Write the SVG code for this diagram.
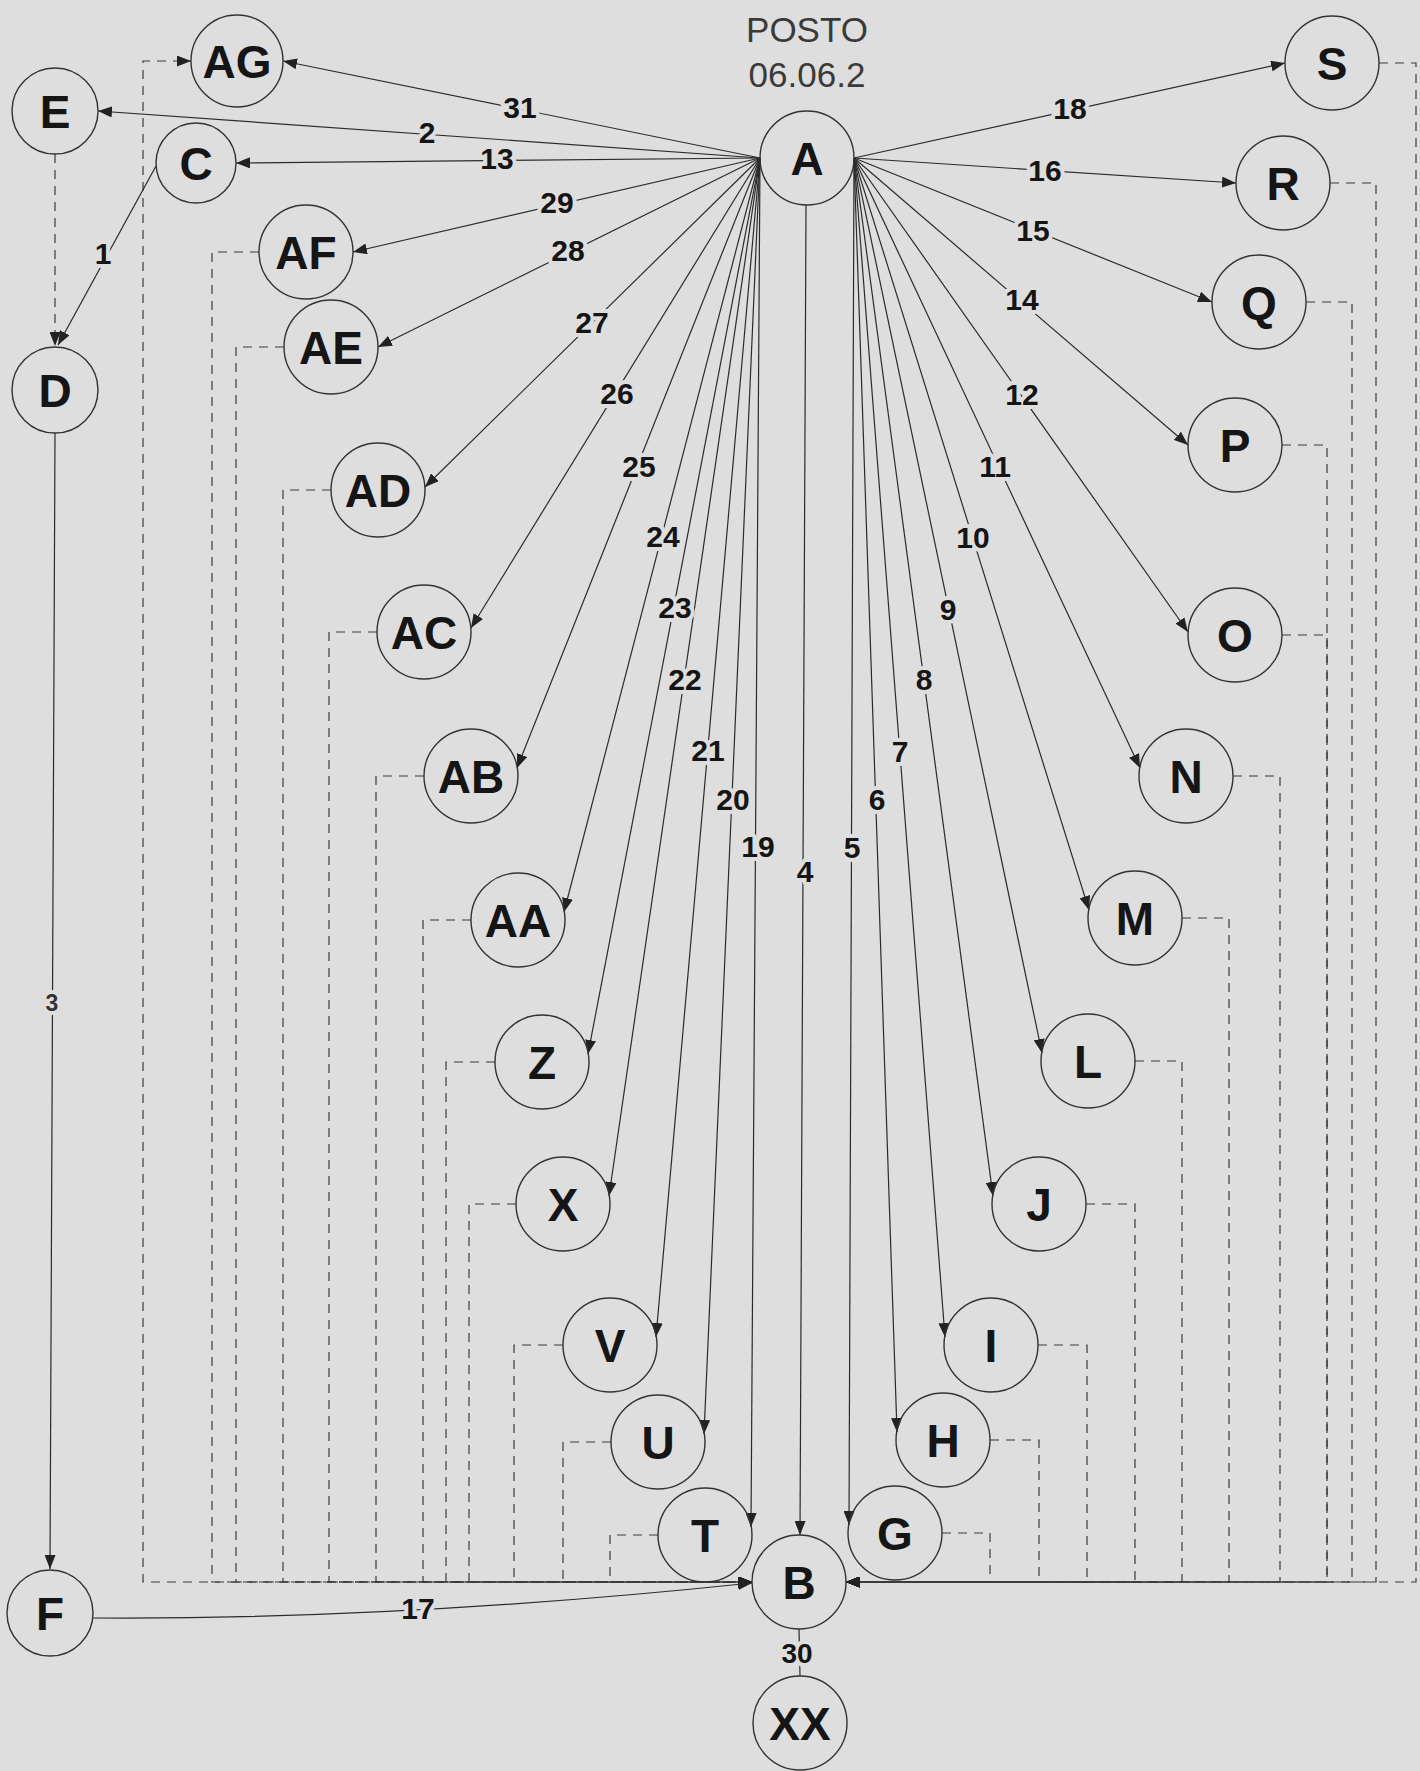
<svg xmlns="http://www.w3.org/2000/svg" width="1420" height="1771" viewBox="0 0 1420 1771">
<style>
.n circle{fill:none;stroke:#333;stroke-width:1.4}
.n text{font-family:"Liberation Sans",Arial,sans-serif;font-weight:bold;font-size:46px;text-anchor:middle;fill:#151515}
.e{stroke:#2b2b2b;stroke-width:1.2;fill:none}
.d{stroke:#3a3a3a;stroke-width:1.2;fill:none;stroke-dasharray:9 7}
.lbl{font-family:"Liberation Sans",Arial,sans-serif;font-weight:bold;font-size:30px;text-anchor:middle;fill:#151515;paint-order:stroke;stroke:#dedede;stroke-width:8;stroke-linejoin:round}
.ttl{font-family:"Liberation Sans",Arial,sans-serif;font-size:35px;text-anchor:middle;fill:#3a3a3a}
</style>
<defs>
<marker id="ah" viewBox="0 0 14 11" refX="14" refY="5.5" markerWidth="14" markerHeight="11" orient="auto" markerUnits="userSpaceOnUse"><path d="M0,0 L14,5.5 L0,11 z" fill="#222"/></marker>
</defs>
<rect x="0" y="0" width="1420" height="1771" fill="#dedede"/>
<text class="ttl" x="807" y="42">POSTO</text>
<text class="ttl" x="807" y="87">06.06.2</text>

<g id="connectors">
<!-- dashed left -->
<path class="d" d="M752 1582 H143 V61 H191" marker-end="url(#ah)"/>
<path class="d" d="M259 252 H212 V1582 H752" marker-end="url(#ah)"/>
<path class="d" d="M284 347 H236 V1582 H752" marker-end="url(#ah)"/>
<path class="d" d="M331 490 H283 V1582 H752" marker-end="url(#ah)"/>
<path class="d" d="M377 632 H329 V1582 H752" marker-end="url(#ah)"/>
<path class="d" d="M424 776 H376 V1582 H752" marker-end="url(#ah)"/>
<path class="d" d="M471 920 H423 V1582 H752" marker-end="url(#ah)"/>
<path class="d" d="M495 1062 H446 V1582 H752" marker-end="url(#ah)"/>
<path class="d" d="M516 1204 H469 V1582 H752" marker-end="url(#ah)"/>
<path class="d" d="M563 1345 H514 V1582 H752" marker-end="url(#ah)"/>
<path class="d" d="M611 1442 H563 V1582 H752" marker-end="url(#ah)"/>
<path class="d" d="M658 1535 H610 V1582 H752" marker-end="url(#ah)"/>
<!-- dashed right -->
<path class="d" d="M942 1533 H990 V1582 H846" marker-end="url(#ah)"/>
<path class="d" d="M990 1440 H1039 V1582 H846" marker-end="url(#ah)"/>
<path class="d" d="M1038 1345 H1087 V1582 H846" marker-end="url(#ah)"/>
<path class="d" d="M1086 1204 H1135 V1582 H846" marker-end="url(#ah)"/>
<path class="d" d="M1135 1061 H1182 V1582 H846" marker-end="url(#ah)"/>
<path class="d" d="M1182 918 H1229 V1582 H846" marker-end="url(#ah)"/>
<path class="d" d="M1233 776 H1280 V1582 H846" marker-end="url(#ah)"/>
<path class="d" d="M1282 635 H1327 V1582 H846" marker-end="url(#ah)"/>
<path class="d" d="M1282 445 H1327 V1582 H846" marker-end="url(#ah)"/>
<path class="d" d="M1306 302 H1352 V1582 H846" marker-end="url(#ah)"/>
<path class="d" d="M1330 183 H1376 V1582 H846" marker-end="url(#ah)"/>
<path class="d" d="M1379 63 H1416 V1582 H846" marker-end="url(#ah)"/>
<!-- E to D dashed -->
<path class="d" d="M55 154 V346" marker-end="url(#ah)"/>

<!-- rays from A, left port -->
<path class="e" d="M760 158 L283 61" marker-end="url(#ah)"/>
<path class="e" d="M760 158 L98 111" marker-end="url(#ah)"/>
<path class="e" d="M760 158 L236 163" marker-end="url(#ah)"/>
<path class="e" d="M760 158 L353 252" marker-end="url(#ah)"/>
<path class="e" d="M760 158 L378 347" marker-end="url(#ah)"/>
<path class="e" d="M760 158 L425 487" marker-end="url(#ah)"/>
<path class="e" d="M760 158 L471 628" marker-end="url(#ah)"/>
<path class="e" d="M760 158 L517 768" marker-end="url(#ah)"/>
<path class="e" d="M760 158 L564 912" marker-end="url(#ah)"/>
<path class="e" d="M760 158 L588 1054" marker-end="url(#ah)"/>
<path class="e" d="M760 158 L609 1196" marker-end="url(#ah)"/>
<path class="e" d="M760 158 L656 1337" marker-end="url(#ah)"/>
<path class="e" d="M760 158 L704 1434" marker-end="url(#ah)"/>
<path class="e" d="M760 158 L751 1527" marker-end="url(#ah)"/>
<path class="e" d="M806 205 L800 1535" marker-end="url(#ah)"/>
<!-- rays from A, right port -->
<path class="e" d="M854 158 L1285 63" marker-end="url(#ah)"/>
<path class="e" d="M854 158 L1236 183" marker-end="url(#ah)"/>
<path class="e" d="M854 158 L1212 302" marker-end="url(#ah)"/>
<path class="e" d="M854 158 L1188 445" marker-end="url(#ah)"/>
<path class="e" d="M854 158 L1188 632" marker-end="url(#ah)"/>
<path class="e" d="M854 158 L1140 768" marker-end="url(#ah)"/>
<path class="e" d="M854 158 L1089 910" marker-end="url(#ah)"/>
<path class="e" d="M854 158 L1042 1053" marker-end="url(#ah)"/>
<path class="e" d="M854 158 L993 1196" marker-end="url(#ah)"/>
<path class="e" d="M854 158 L945 1337" marker-end="url(#ah)"/>
<path class="e" d="M854 158 L897 1432" marker-end="url(#ah)"/>
<path class="e" d="M854 158 L849 1525" marker-end="url(#ah)"/>
<!-- other -->
<path class="e" d="M156 166 L58 345" marker-end="url(#ah)"/>
<path class="e" d="M55 433 L50 1569" marker-end="url(#ah)"/>
<path class="e" d="M93 1618 Q400 1620 752 1583" marker-end="url(#ah)"/>
<path class="e" d="M799 1629 L800 1676"/>

<!-- labels -->
<text class="lbl" x="520" y="118">31</text>
<text class="lbl" x="427" y="143">2</text>
<text class="lbl" x="497" y="169">13</text>
<text class="lbl" x="557" y="213">29</text>
<text class="lbl" x="568" y="261">28</text>
<text class="lbl" x="592" y="333">27</text>
<text class="lbl" x="617" y="404">26</text>
<text class="lbl" x="639" y="477">25</text>
<text class="lbl" x="663" y="547">24</text>
<text class="lbl" x="675" y="618">23</text>
<text class="lbl" x="685" y="690">22</text>
<text class="lbl" x="708" y="761">21</text>
<text class="lbl" x="733" y="810">20</text>
<text class="lbl" x="758" y="857">19</text>
<text class="lbl" x="805" y="882">4</text>
<text class="lbl" x="852" y="858">5</text>
<text class="lbl" x="877" y="810">6</text>
<text class="lbl" x="900" y="762">7</text>
<text class="lbl" x="924" y="690">8</text>
<text class="lbl" x="948" y="620">9</text>
<text class="lbl" x="973" y="548">10</text>
<text class="lbl" x="995" y="477">11</text>
<text class="lbl" x="1022" y="405">12</text>
<text class="lbl" x="1022" y="310">14</text>
<text class="lbl" x="1033" y="241">15</text>
<text class="lbl" x="1045" y="181">16</text>
<text class="lbl" x="1070" y="119">18</text>
<text class="lbl" x="103" y="264">1</text>
<text class="lbl" x="52" y="1011" style="font-size:23px;fill:#333">3</text>
<text class="lbl" x="418" y="1619">17</text>
<text class="lbl" x="797" y="1663" style="font-size:28px">30</text>
</g>

<g id="node-A" class="n"><circle cx="807" cy="158" r="47"/><text x="807" y="175">A</text></g>
<g id="node-AG" class="n"><circle cx="237" cy="61" r="46"/><text x="237" y="78">AG</text></g>
<g id="node-E" class="n"><circle cx="55" cy="111" r="43"/><text x="55" y="128">E</text></g>
<g id="node-C" class="n"><circle cx="196" cy="163" r="40"/><text x="196" y="180">C</text></g>
<g id="node-AF" class="n"><circle cx="306" cy="252" r="47"/><text x="306" y="269">AF</text></g>
<g id="node-AE" class="n"><circle cx="331" cy="347" r="47"/><text x="331" y="364">AE</text></g>
<g id="node-D" class="n"><circle cx="55" cy="390" r="43"/><text x="55" y="407">D</text></g>
<g id="node-AD" class="n"><circle cx="378" cy="490" r="47"/><text x="378" y="507">AD</text></g>
<g id="node-AC" class="n"><circle cx="424" cy="632" r="47"/><text x="424" y="649">AC</text></g>
<g id="node-AB" class="n"><circle cx="471" cy="776" r="47"/><text x="471" y="793">AB</text></g>
<g id="node-AA" class="n"><circle cx="518" cy="920" r="47"/><text x="518" y="937">AA</text></g>
<g id="node-Z" class="n"><circle cx="542" cy="1062" r="47"/><text x="542" y="1079">Z</text></g>
<g id="node-X" class="n"><circle cx="563" cy="1204" r="47"/><text x="563" y="1221">X</text></g>
<g id="node-V" class="n"><circle cx="610" cy="1345" r="47"/><text x="610" y="1362">V</text></g>
<g id="node-U" class="n"><circle cx="658" cy="1442" r="47"/><text x="658" y="1459">U</text></g>
<g id="node-T" class="n"><circle cx="705" cy="1535" r="47"/><text x="705" y="1552">T</text></g>
<g id="node-B" class="n"><circle cx="799" cy="1582" r="47"/><text x="799" y="1599">B</text></g>
<g id="node-G" class="n"><circle cx="895" cy="1533" r="47"/><text x="895" y="1550">G</text></g>
<g id="node-H" class="n"><circle cx="943" cy="1440" r="47"/><text x="943" y="1457">H</text></g>
<g id="node-I" class="n"><circle cx="991" cy="1345" r="47"/><text x="991" y="1362">I</text></g>
<g id="node-J" class="n"><circle cx="1039" cy="1204" r="47"/><text x="1039" y="1221">J</text></g>
<g id="node-L" class="n"><circle cx="1088" cy="1061" r="47"/><text x="1088" y="1078">L</text></g>
<g id="node-M" class="n"><circle cx="1135" cy="918" r="47"/><text x="1135" y="935">M</text></g>
<g id="node-N" class="n"><circle cx="1186" cy="776" r="47"/><text x="1186" y="793">N</text></g>
<g id="node-O" class="n"><circle cx="1235" cy="635" r="47"/><text x="1235" y="652">O</text></g>
<g id="node-P" class="n"><circle cx="1235" cy="445" r="47"/><text x="1235" y="462">P</text></g>
<g id="node-Q" class="n"><circle cx="1259" cy="302" r="47"/><text x="1259" y="319">Q</text></g>
<g id="node-R" class="n"><circle cx="1283" cy="183" r="47"/><text x="1283" y="200">R</text></g>
<g id="node-S" class="n"><circle cx="1332" cy="63" r="47"/><text x="1332" y="80">S</text></g>
<g id="node-F" class="n"><circle cx="50" cy="1613" r="43"/><text x="50" y="1630">F</text></g>
<g id="node-XX" class="n"><circle cx="800" cy="1723" r="47"/><text x="800" y="1740">XX</text></g>
</svg>
